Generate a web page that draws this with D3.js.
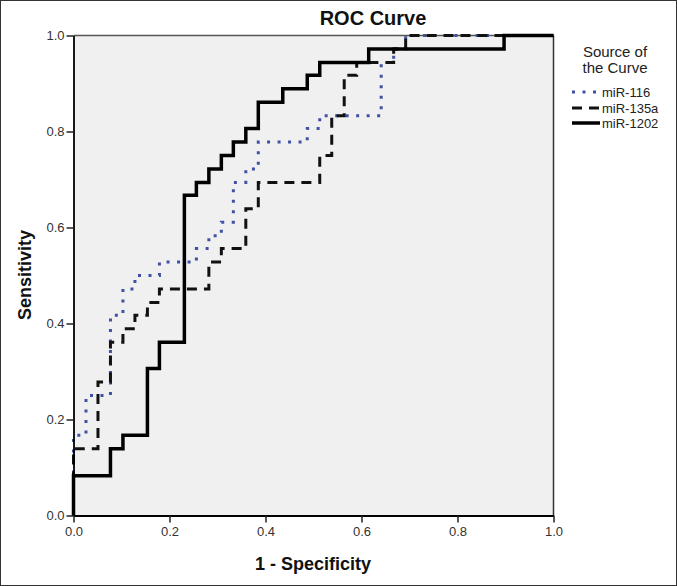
<!DOCTYPE html>
<html>
<head>
<meta charset="utf-8">
<script src="https://cdn.jsdelivr.net/npm/d3@7"></script>
<style>
  html, body { margin: 0; padding: 0; background: #fff; }
  svg { display: block; font-family: "Liberation Sans", Arial, sans-serif; }
</style>
</head>
<body>
<svg id="chart" width="677" height="586"></svg>
<script>
// ---- Data ----
const seriesNames = ["miR-116", "miR-135a", "miR-1202"];

const fpr116  = [0,0,.026,.026,.077,.077,.103,.103,.128,.128,.179,.179,.256,.256,.282,.282,.308,.308,.333,.333,.359,.359,.385,.385,.487,.487,.513,.513,.641,.641,.667,.667,.692,.692,1];
const sens116 = [0,.167,.167,.250,.250,.417,.417,.472,.472,.500,.500,.528,.528,.556,.556,.583,.583,.611,.611,.694,.694,.722,.722,.778,.778,.806,.806,.833,.833,.944,.944,.972,.972,1,1];

const fpr135a  = [0,0,.051,.051,.077,.077,.103,.103,.128,.128,.154,.154,.179,.179,.282,.282,.308,.308,.359,.359,.385,.385,.513,.513,.538,.538,.564,.564,.590,.590,.667,.667,.692,.692,1];
const sens135a = [0,.139,.139,.278,.278,.361,.361,.389,.389,.417,.417,.444,.444,.472,.472,.528,.528,.556,.556,.639,.639,.694,.694,.750,.750,.833,.833,.917,.917,.944,.944,.972,.972,1,1];

const fpr1202  = [0,0,.077,.077,.103,.103,.154,.154,.179,.179,.231,.231,.256,.256,.282,.282,.308,.308,.333,.333,.359,.359,.385,.385,.436,.436,.487,.487,.513,.513,.615,.615,.897,.897,1];
const sens1202 = [0,.083,.083,.139,.139,.167,.167,.306,.306,.361,.361,.667,.667,.694,.694,.722,.722,.750,.750,.778,.778,.806,.806,.861,.861,.889,.889,.917,.917,.944,.944,.972,.972,1,1];

const tickValues = [0, 0.2, 0.4, 0.6, 0.8, 1.0];
const titleText = "ROC Curve";
const xLabel = "1 - Specificity";
const yLabel = "Sensitivity";
const legendTitle = ["Source of", "the Curve"];

// ---- Layout ----
const svg = d3.select("#chart");
const W = 677, H = 586;
const pLeft = 73.5, pRight = 553.5, pTop = 35.5, pBottom = 515.5;

svg.append("rect").attr("x", 0.5).attr("y", 0.5).attr("width", W - 1).attr("height", H - 1)
  .attr("fill", "#fff").attr("stroke", "#333").attr("stroke-width", 1);

const x = d3.scaleLinear().domain([0, 1]).range([pLeft, pRight]);
const y = d3.scaleLinear().domain([0, 1]).range([pBottom, pTop]);

// plot background
svg.append("rect").attr("x", pLeft).attr("y", pTop).attr("width", pRight - pLeft).attr("height", pBottom - pTop)
  .attr("fill", "#f0f0f0");

// frame top/right
svg.append("line").attr("x1", pLeft).attr("x2", pRight).attr("y1", pTop).attr("y2", pTop)
  .attr("stroke", "#555").attr("stroke-width", 1.5);
svg.append("line").attr("x1", pRight).attr("x2", pRight).attr("y1", pTop).attr("y2", pBottom)
  .attr("stroke", "#333").attr("stroke-width", 1.5);

// series
const series = [
  { name: seriesNames[0], fpr: fpr116,  sens: sens116,  color: "#3f51a3", width: 3,   dash: "3,7.5" },
  { name: seriesNames[1], fpr: fpr135a, sens: sens135a, color: "#111",    width: 3,   dash: "10,7" },
  { name: seriesNames[2], fpr: fpr1202, sens: sens1202, color: "#000",    width: 3.5, dash: null }
];

const line = d3.line().x(d => x(d[0])).y(d => y(d[1])).curve(d3.curveLinear);

svg.append("clipPath").attr("id", "clip").append("rect")
  .attr("x", pLeft - 3).attr("y", pTop - 3).attr("width", pRight - pLeft + 6).attr("height", pBottom - pTop + 6);

const g = svg.append("g").attr("clip-path", "url(#clip)");
series.forEach(s => {
  const pts = s.fpr.map((f, i) => [f, s.sens[i]]);
  g.append("path").attr("d", line(pts))
    .attr("fill", "none").attr("stroke", s.color).attr("stroke-width", s.width)
    .attr("stroke-dasharray", s.dash).attr("stroke-linecap", "butt")
    .attr("stroke-linejoin", "miter");
});

// axes
const fmt = d3.format(".1f");
const xAxis = svg.append("g").attr("transform", `translate(0,${pBottom})`)
  .call(d3.axisBottom(x).tickValues(tickValues).tickFormat(fmt).tickSize(7).tickSizeOuter(0).tickPadding(4));
const yAxis = svg.append("g").attr("transform", `translate(${pLeft},0)`)
  .call(d3.axisLeft(y).tickValues(tickValues).tickFormat(fmt).tickSize(7).tickSizeOuter(0).tickPadding(2));

[xAxis, yAxis].forEach(a => {
  a.select(".domain").attr("stroke", "#000").attr("stroke-width", 1.8);
  a.selectAll(".tick line").attr("stroke", "#222").attr("stroke-width", 1.5);
  a.selectAll(".tick text").attr("fill", "#333").style("font-size", "13px")
    .style("font-family", "'Liberation Sans', Arial, sans-serif");
});

// title and axis labels
svg.append("text").attr("x", 373).attr("y", 25).attr("text-anchor", "middle")
  .style("font-size", "20px").style("font-weight", "bold").attr("fill", "#111").text(titleText);

svg.append("text").attr("x", 313).attr("y", 570).attr("text-anchor", "middle")
  .style("font-size", "18px").style("font-weight", "bold").attr("fill", "#111").text(xLabel);

svg.append("text").attr("transform", "translate(31,275) rotate(-90)").attr("text-anchor", "middle")
  .style("font-size", "18px").style("font-weight", "bold").attr("fill", "#111").text(yLabel);

// legend
legendTitle.forEach((t, i) => {
  svg.append("text").attr("x", 615).attr("y", 57 + i * 15.5).attr("text-anchor", "middle")
    .style("font-size", "15px").attr("fill", "#222").text(t);
});

const legendY = [92, 108, 123];
series.forEach((s, i) => {
  const ly = legendY[i];
  svg.append("line").attr("x1", 572).attr("x2", 600).attr("y1", ly).attr("y2", ly)
    .attr("stroke", s.color).attr("stroke-width", s.width).attr("stroke-dasharray", s.dash);
  svg.append("text").attr("x", 602).attr("y", ly + 5).style("font-size", "13px")
    .attr("fill", "#222").text(s.name);
});
</script>
</body>
</html>
